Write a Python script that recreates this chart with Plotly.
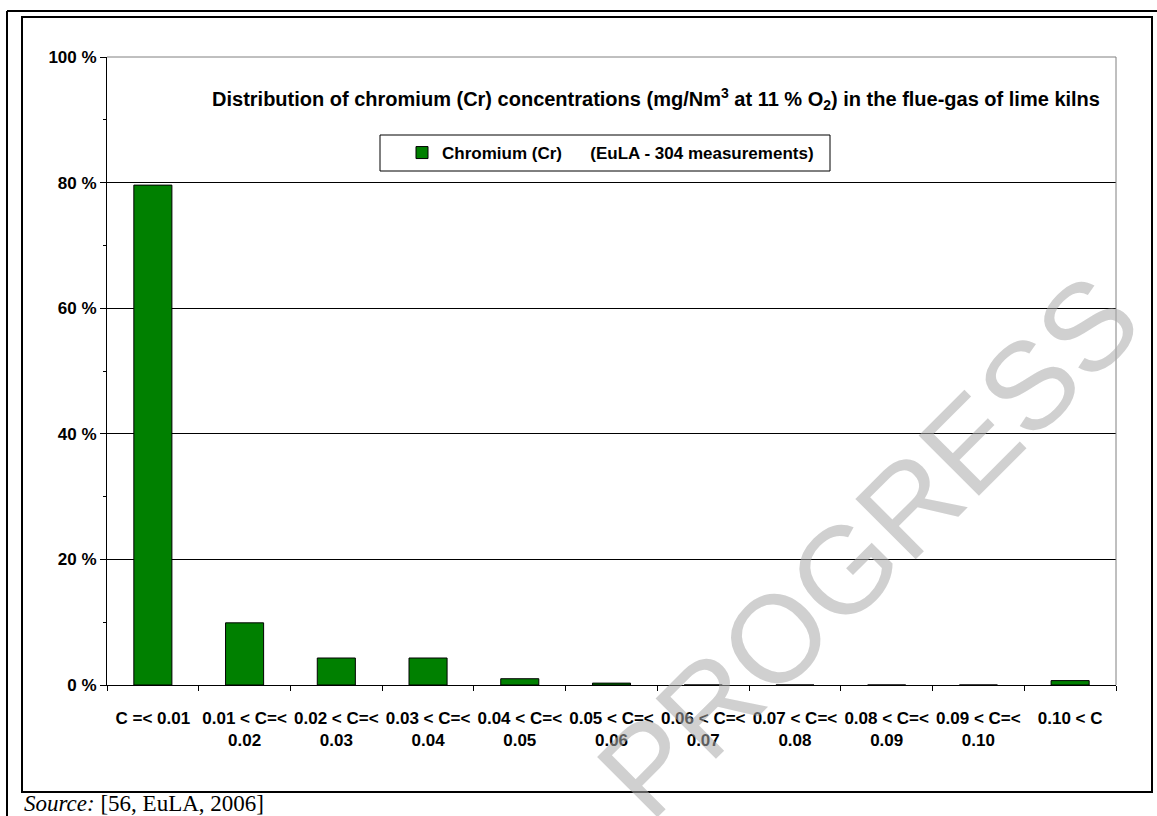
import plotly.graph_objects as go

# ---------------- data ----------------
categories = [
    "C =< 0.01", "0.01 < C =< 0.02", "0.02 < C =< 0.03", "0.03 < C =< 0.04",
    "0.04 < C =< 0.05", "0.05 < C =< 0.06", "0.06 < C =< 0.07", "0.07 < C =< 0.08",
    "0.08 < C =< 0.09", "0.09 < C =< 0.10", "0.10 < C",
]
label_line1 = [
    "C =&lt; 0.01", "0.01 &lt; C=&lt;", "0.02 &lt; C=&lt;", "0.03 &lt; C=&lt;",
    "0.04 &lt; C=&lt;", "0.05 &lt; C=&lt;", "0.06 &lt; C=&lt;", "0.07 &lt; C=&lt;",
    "0.08 &lt; C=&lt;", "0.09 &lt; C=&lt;", "0.10 &lt; C",
]
label_line2 = ["", "0.02", "0.03", "0.04", "0.05", "0.06", "0.07", "0.08", "0.09", "0.10", ""]
share_pct = [79.6, 9.9, 4.3, 4.3, 1.0, 0.3, 0.0, 0.0, 0.0, 0.0, 0.7]
y_tick_vals = [0, 20, 40, 60, 80, 100]
y_tick_text = ["0 %", "20 %", "40 %", "60 %", "80 %", "100 %"]
y_minor_vals = [10, 30, 50, 70, 90]
series_name = "Chromium (Cr)&nbsp;&nbsp;&nbsp;&nbsp;&nbsp;&nbsp;(EuLA - 304 measurements)"
title_text = ("Distribution of chromium (Cr) concentrations (mg/Nm<sup>3</sup> at 11 % O<sub>2</sub>) "
              "in the flue-gas of lime kilns")
source_text = "<i>Source:</i> [56, EuLA, 2006]"
watermark_text = "PROGRESS"

# ---------------- geometry helpers (pixels -> paper) ----------------
W, H = 1157, 816
PL, PR, PT, PB = 107, 1116, 57, 685


def px(x):
    return (x - PL) / (PR - PL)


def py(y):
    return (PB - y) / (PB - PT)


FONT = "Liberation Sans, Arial, sans-serif"
bold = dict(family=FONT, size=17, color="black", weight="bold")

fig = go.Figure()
fig.add_trace(go.Bar(
    x=categories, y=share_pct, name=series_name,
    marker=dict(color="#008000", line=dict(color="black", width=1)),
    xaxis="x", yaxis="y", hoverinfo="x+y",
))
# invisible companion trace carrying the second line of the category labels
fig.add_trace(go.Bar(
    x=categories, y=share_pct, xaxis="x2", yaxis="y",
    opacity=0, showlegend=False, hoverinfo="skip",
))

fig.update_layout(
    width=W, height=H, autosize=False,
    margin=dict(l=PL, r=W - PR, t=PT, b=H - PB, pad=0),
    paper_bgcolor="white", plot_bgcolor="white",
    bargap=0.585,
    showlegend=True,
    legend=dict(x=px(402), y=py(153), xanchor="left", yanchor="middle",
                bgcolor="rgba(0,0,0,0)", borderwidth=0, font=bold),
    title=dict(text=title_text, x=px(656), y=py(99), xref="paper", yref="paper",
               xanchor="center", yanchor="middle",
               font=dict(family=FONT, size=20, color="black", weight="bold")),
    xaxis=dict(
        type="category", categoryorder="array", categoryarray=categories,
        range=[-0.5, len(categories) - 0.5],
        tickmode="array", tickvals=categories, ticktext=label_line1,
        tickson="boundaries", ticks="outside", ticklen=5, tickcolor="black",
        showline=True, linecolor="black", linewidth=1, showgrid=False,
        tickangle=0, tickfont=bold, ticklabelstandoff=18, fixedrange=True,
    ),
    xaxis2=dict(
        type="category", categoryorder="array", categoryarray=categories,
        overlaying="x", matches="x", anchor="y", side="bottom",
        range=[-0.5, len(categories) - 0.5],
        tickmode="array", tickvals=categories, ticktext=label_line2,
        ticks="", showline=False, showgrid=False, zeroline=False,
        tickangle=0, tickfont=bold, ticklabelstandoff=43,
    ),
    yaxis=dict(
        range=[0, 100], tickmode="array", tickvals=y_tick_vals, ticktext=y_tick_text,
        ticks="outside", ticklen=6, tickcolor="black",
        showline=True, linecolor="black", linewidth=1,
        showgrid=True, gridcolor="black", gridwidth=1, zeroline=False,
        tickfont=bold,
        minor=dict(tickmode="array", tickvals=y_minor_vals, ticks="outside",
                   ticklen=3, tickcolor="black", showgrid=False),
    ),
)

shapes = [
    # plot-area border (top & right, gray)
    dict(type="line", xref="paper", yref="paper", x0=0, x1=1, y0=1, y1=1,
         line=dict(color="#808080", width=1)),
    dict(type="line", xref="paper", yref="paper", x0=1, x1=1, y0=0, y1=1,
         line=dict(color="#808080", width=1)),
    # legend box
    dict(type="rect", xref="paper", yref="paper", x0=px(380), x1=px(830),
         y0=py(171), y1=py(135), line=dict(color="black", width=1), layer="below"),
    # inner chart frame
    dict(type="rect", xref="paper", yref="paper", x0=px(22), x1=px(1152),
         y0=py(792), y1=py(17), line=dict(color="black", width=2)),
    # outer page frame (left and top)
    dict(type="line", xref="paper", yref="paper", x0=px(7), x1=px(7),
         y0=py(11), y1=py(830), line=dict(color="black", width=2)),
    dict(type="line", xref="paper", yref="paper", x0=px(7), x1=px(1170),
         y0=py(11), y1=py(11), line=dict(color="black", width=2)),
]
fig.update_layout(shapes=shapes)

fig.add_annotation(
    text=source_text, xref="paper", yref="paper", x=px(22), y=py(803),
    xanchor="left", yanchor="middle", showarrow=False,
    font=dict(family="Liberation Serif, Times New Roman, serif", size=23, color="black"),
)
fig.add_annotation(
    text=watermark_text, xref="paper", yref="paper", x=px(868), y=py(546),
    xanchor="center", yanchor="middle", showarrow=False, textangle=-45,
    font=dict(family=FONT, size=124, color="rgba(170,170,170,0.55)"),
)

fig.write_html("out.html", config={"displayModeBar": False},
               post_script="document.body.style.margin='0';")
